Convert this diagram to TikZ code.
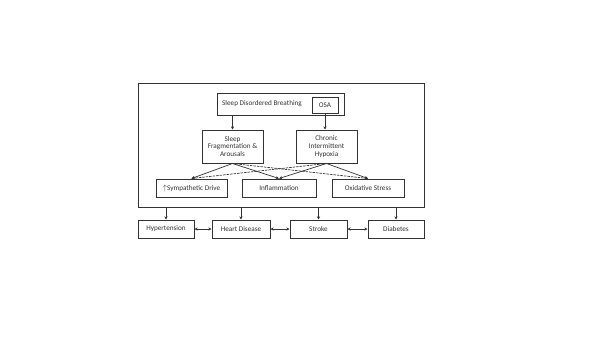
\documentclass[tikz,border=0pt]{standalone}
\usepackage{fontspec}
\setmainfont{Carlito}
\usetikzlibrary{arrows.meta}
\definecolor{ln}{HTML}{333333}
\begin{document}
\begin{tikzpicture}[x=1pt,y=-1pt,
  box/.style={draw=ln, line width=1pt, inner sep=0pt, text=ln, font=\fontsize{7.2}{7.6}\selectfont, align=center},
  lbl/.style={inner sep=0pt, text=ln, font=\fontsize{7.2}{7.6}\selectfont},
  arr/.style={-{Stealth[length=3.2pt,width=3.2pt]}, line width=0.7pt, draw=ln},
  darr/.style={{Stealth[length=3.2pt,width=3.2pt]}-{Stealth[length=3.2pt,width=3.2pt]}, line width=0.7pt, draw=ln},
  dsh/.style={dash pattern=on 2.5pt off 1pt}]
\useasboundingbox (0,0) rectangle (600,338);
\node[box, minimum width=286, minimum height=124] (outer) at (281,145) {};
\node[box, minimum width=127, minimum height=22] (sdb) at (280.5,104) {};
\node[lbl] (sdbt) at (262,104) {Sleep Disordered Breathing};
\node[box, minimum width=26, minimum height=16] (osa) at (325,105) {OSA};
\node[box, minimum width=61, minimum height=33] (sf) at (232.5,146.5) {Sleep\\Fragmentation \&\\Arousals};
\node[box, minimum width=61, minimum height=33] (cih) at (326.5,146.5) {Chronic\\Intermittent\\Hypoxia};
\node[box, minimum width=71, minimum height=18] (sym) at (191.5,188) {{\fontsize{8.5}{8.5}\selectfont$\uparrow$}Sympathetic Drive};
\node[box, minimum width=74, minimum height=18] (inf) at (279,188) {Inflammation};
\node[box, minimum width=72, minimum height=18] (oxi) at (368,188) {Oxidative Stress};
\node[box, minimum width=56, minimum height=18] (hyp) at (166,229) {Hypertension};
\node[box, minimum width=58, minimum height=18] (hd) at (241,229) {Heart Disease};
\node[box, minimum width=57, minimum height=18] (str) at (318.5,229) {Stroke};
\node[box, minimum width=56, minimum height=18] (dia) at (396,229) {Diabetes};
\draw[arr] (sf.north |- sdb.south) -- (sf.north);
\draw[arr] (osa.south) -- (cih.north -| osa.south);
\draw[arr] (sf.south) -- (sym.north);
\draw[arr] (sf.south) -- (inf.north);
\draw[arr, dsh] (sf.south) -- (oxi.north);
\draw[arr, dsh] (cih.south) -- (sym.north);
\draw[arr] (cih.south) -- (inf.north);
\draw[arr] (cih.south) -- (oxi.north);
\draw[arr] (hyp.north |- outer.south) -- (hyp.north);
\draw[arr] (hd.north |- outer.south) -- (hd.north);
\draw[arr] (str.north |- outer.south) -- (str.north);
\draw[arr] (dia.north |- outer.south) -- (dia.north);
\draw[darr] (hyp.east) -- (hd.west);
\draw[darr] (hd.east) -- (str.west);
\draw[darr] (str.east) -- (dia.west);
\end{tikzpicture}
\end{document}
